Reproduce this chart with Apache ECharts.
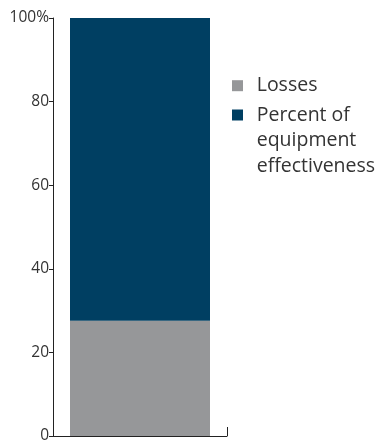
<!DOCTYPE html>
<html>
<head>
<meta charset="utf-8">
<script src="https://cdn.jsdelivr.net/npm/echarts@6/dist/echarts.min.js"></script>
<style>
  html, body { margin: 0; padding: 0; background: #fff; }
  #chart { width: 377px; height: 440px; }
</style>
</head>
<body>
<div id="chart"></div>
<script>
// Single stacked column: share of losses vs. effective equipment time
const categories = ['OEE'];
const seriesNames = ['Losses', 'Percent of equipment effectiveness'];
const lossesValues = [27.6];
const effectivenessValues = [72.4];
const yTicks = [0, 20, 40, 60, 80, 100];

// Two leading blank lines keep the vertically-centred legend icon beside the first line
const legendLabels = {
  'Losses': 'Losses',
  'Percent of equipment effectiveness': '\n\nPercent of\nequipment\neffectiveness'
};

const FONT = '"Open Sans", sans-serif';
const LINE = 25.5;

const chart = echarts.init(document.getElementById('chart'), null, { renderer: 'canvas' });

chart.setOption({
  animation: false,
  grid: { left: 53, right: 150, top: 18, bottom: 4, containLabel: false, outerBoundsMode: 'none' },
  legend: {
    orient: 'vertical',
    left: 227,
    top: 46.25,
    itemWidth: 11,
    itemHeight: 11,
    itemGap: -47.2,
    icon: 'rect',
    data: seriesNames,
    formatter: name => legendLabels[name],
    textStyle: {
      fontFamily: FONT,
      fontSize: 19.5,
      color: '#333333',
      lineHeight: LINE,
      padding: [0, 0, 0, 8.7]
    }
  },
  xAxis: {
    type: 'category',
    data: categories,
    axisLine: { lineStyle: { color: '#222', width: 1 } },
    axisTick: { show: true, inside: true, length: 9, lineStyle: { color: '#222' } },
    axisLabel: { show: false },
    splitLine: { show: false }
  },
  yAxis: {
    type: 'value',
    min: 0,
    max: 100,
    interval: 20,
    axisLine: { show: true, lineStyle: { color: '#222', width: 1 } },
    axisTick: { show: true, length: 4, lineStyle: { color: '#222' } },
    splitLine: { show: false },
    axisLabel: {
      margin: 4,
      fontFamily: FONT,
      fontSize: 15.5,
      color: '#333333',
      formatter: v => (yTicks.includes(v) ? (v === 100 ? v + '%' : String(v)) : '')
    }
  },
  series: [
    {
      name: seriesNames[0],
      type: 'bar',
      stack: 'total',
      barWidth: 140,
      data: lossesValues,
      itemStyle: { color: '#969799' }
    },
    {
      name: seriesNames[1],
      type: 'bar',
      stack: 'total',
      barWidth: 140,
      data: effectivenessValues,
      itemStyle: { color: '#003f62' }
    }
  ]
});
</script>
</body>
</html>
